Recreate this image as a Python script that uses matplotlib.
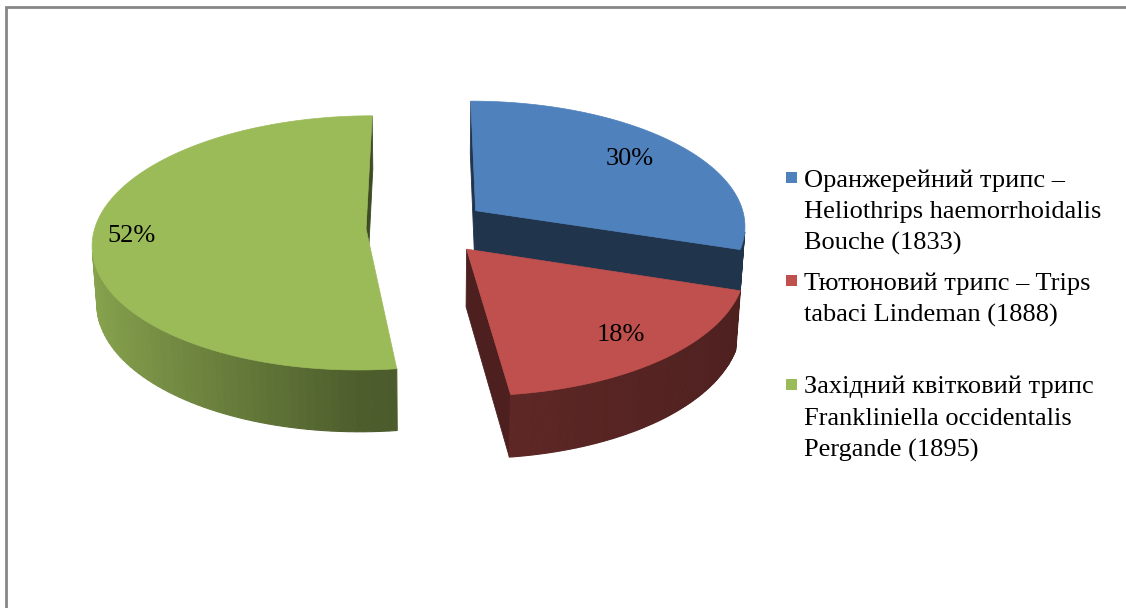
import numpy as np
import matplotlib.pyplot as plt
from matplotlib.patches import Polygon, Rectangle
from matplotlib.colors import to_rgb

# --- Data ---
labels = ["Оранжерейний трипс –\nHeliothrips haemorrhoidalis\nBouche (1833)",
          "Тютюновий трипс – Trips\ntabaci Lindeman (1888)",
          "Західний квітковий трипс\nFrankliniella occidentalis\nPergande (1895)"]
shares = [30, 18, 52]
pct_text = ["30%", "18%", "52%"]
colors = ["#4f81bd", "#c0504d", "#9bbb59"]

# --- 3D pie look ---
tilt = np.radians(27.5)
dist = 8.0
scale = 271
depth = 0.24
explode = 0.225
cx, cy = 427, 227
label_r = [0.76, 0.8, 0.86]

cam = np.array([0.0, dist * np.sin(tilt), dist * np.cos(tilt)])


def project(X, Y, Z):
    v = Y * np.cos(tilt) - Z * np.sin(tilt)
    w = dist - (Z * np.cos(tilt) + Y * np.sin(tilt))
    return cx + scale * X * dist / w, cy - scale * v * dist / w


def shade(col, f):
    return tuple(np.clip(np.array(to_rgb(col)) * f, 0, 1))


def wall_factor(t):
    s = np.sin(t)
    return 0.5 - 0.38 * s if s < 0 else 0.5 - 0.1 * s


plt.rcParams['font.family'] = ['Liberation Serif', 'DejaVu Serif']
fig = plt.figure(figsize=(11.26, 6.08), dpi=100)
ax = fig.add_axes([0, 0, 1, 1])
ax.set_xlim(0, 1126)
ax.set_ylim(608, 0)
ax.axis('off')

# frame
ax.plot([5.5, 5.5, 1126], [608, 6.5, 6.5], color='#868686', lw=2, solid_joinstyle='miter')

fracs = np.array(shares) / np.sum(shares)
ends = np.cumsum(fracs) * 2 * np.pi
starts = ends - fracs * 2 * np.pi

slices = []
for i in range(len(shares)):
    t0, t1 = starts[i], ends[i]
    mid = (t0 + t1) / 2
    ox, oz = explode * np.sin(mid), -explode * np.cos(mid)
    # distance of slice middle from camera, for drawing order
    px, pz = ox + 0.5 * np.sin(mid), oz - 0.5 * np.cos(mid)
    d = np.hypot(cam[0] - px, np.hypot(cam[1], cam[2] - pz))
    slices.append((d, i, t0, t1, mid, ox, oz))

slices.sort(reverse=True)

for d, i, t0, t1, mid, ox, oz in slices:
    col = colors[i]
    th = np.linspace(t0, t1, 120)
    xs = ox + np.sin(th)
    zs = oz - np.cos(th)

    # cut faces
    for t, sign in [(t0, -1), (t1, 1)]:
        n = sign * np.array([np.cos(t), np.sin(t)])
        if n[0] * (cam[0] - ox) + n[1] * (cam[2] - oz) > 0:
            ex, ez = ox + np.sin(t), oz - np.cos(t)
            X = [ox, ex, ex, ox]
            Y = [0, 0, -depth, -depth]
            Z = [oz, ez, ez, oz]
            sx, sy = project(np.array(X), np.array(Y), np.array(Z))
            ax.add_patch(Polygon(np.column_stack([sx, sy]), closed=True,
                                 fc=shade(col, 0.4), ec=shade(col, 0.4), lw=0.6))

    # outer wall
    for j in range(len(th) - 1):
        tm = (th[j] + th[j + 1]) / 2
        nx, nz = np.sin(tm), -np.cos(tm)
        wx, wz = ox + nx, oz + nz
        if nx * (cam[0] - wx) + nz * (cam[2] - wz) <= 0:
            continue
        X = np.array([xs[j], xs[j + 1], xs[j + 1], xs[j]])
        Y = np.array([0, 0, -depth, -depth])
        Z = np.array([zs[j], zs[j + 1], zs[j + 1], zs[j]])
        sx, sy = project(X, Y, Z)
        c = shade(col, wall_factor(tm))
        ax.add_patch(Polygon(np.column_stack([sx, sy]), closed=True,
                             fc=c, ec=c, lw=0.8))

    # top face
    X = np.concatenate([[ox], xs])
    Z = np.concatenate([[oz], zs])
    sx, sy = project(X, np.zeros_like(X), Z)
    ax.add_patch(Polygon(np.column_stack([sx, sy]), closed=True,
                         fc=col, ec=col, lw=0.5))

    # percent label
    lx, ly = project(ox + label_r[i] * np.sin(mid), 0.0, oz - label_r[i] * np.cos(mid))
    ax.text(lx, ly, pct_text[i], fontsize=19, ha='center', va='center', color='black')

# --- Legend ---
for i, lab in enumerate(labels):
    y0 = 177 + i * 103.5
    ax.add_patch(Rectangle((786, y0 - 5.5), 11, 11, fc=colors[i], ec='none'))
    ax.text(804, y0 - 8, lab, fontsize=19, ha='left', va='top',
            linespacing=1.53, color='black')

fig.savefig('out.png', dpi=100)
